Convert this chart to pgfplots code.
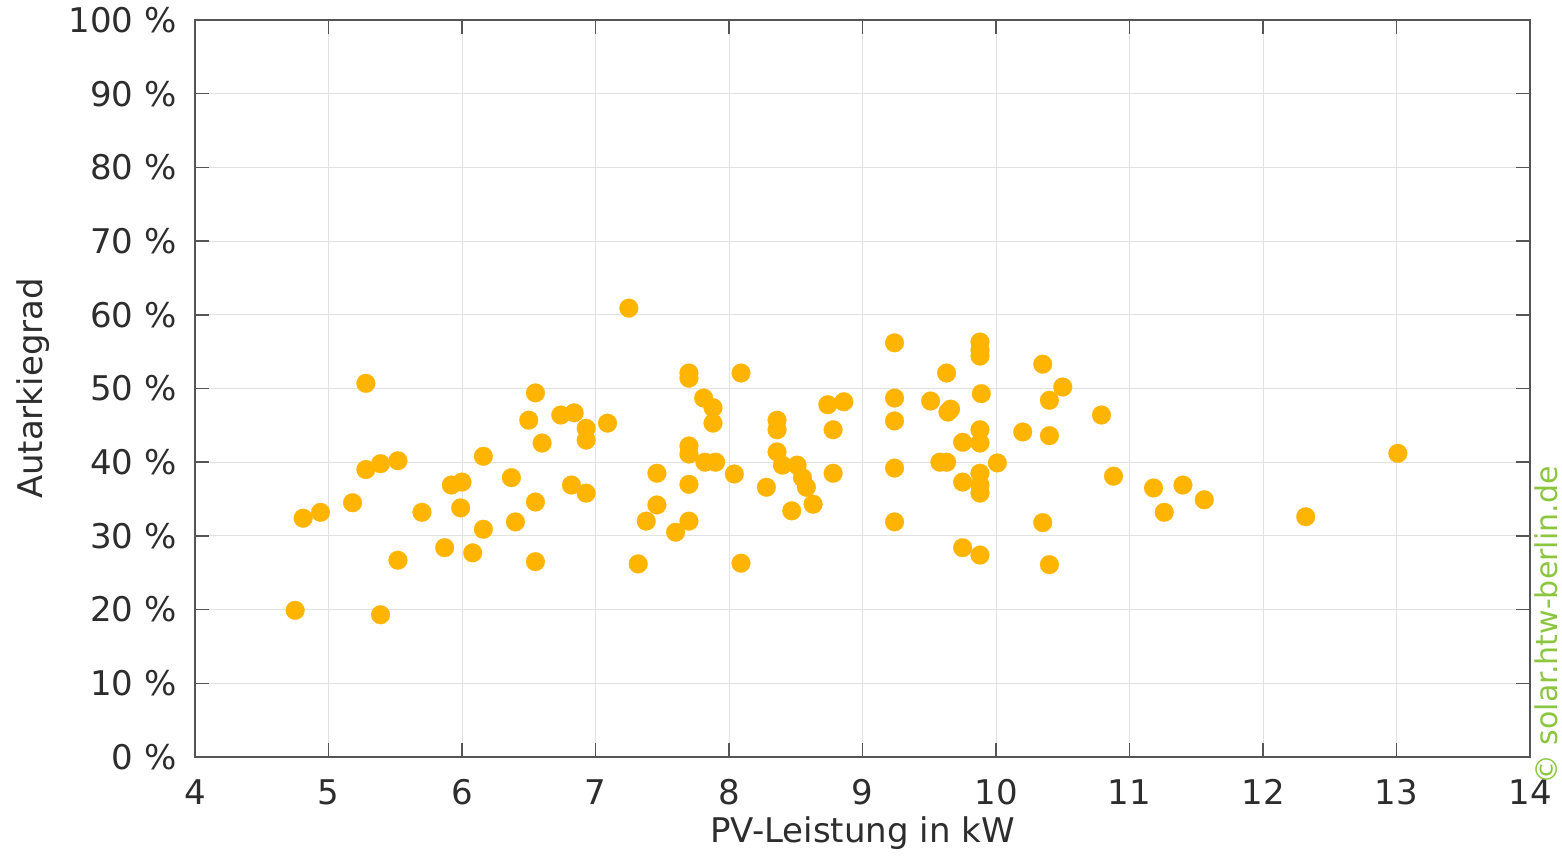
\documentclass[border=0pt]{standalone}
\usepackage{pgfplots}
\pgfplotsset{compat=1.18}
\usepackage{fontspec}
\setmainfont{DejaVu Sans}
\definecolor{markc}{RGB}{255,180,0}
\definecolor{txt}{RGB}{45,45,45}
\definecolor{axc}{RGB}{85,85,85}
\definecolor{gridc}{RGB}{226,226,226}
\definecolor{wm}{RGB}{140,198,63}
\begin{document}
\begin{tikzpicture}
\useasboundingbox (-97.5pt,-54pt) rectangle (683.5pt,378.5pt);
\begin{axis}[
  at={(0,0)}, anchor=south west,
  scale only axis,
  width=667.5pt, height=368.5pt,
  xmin=4, xmax=14, ymin=0, ymax=100,
  xtick={4,5,...,14},
  xticklabels={4,5,6,7,8,9,10,11,12,13,14},
  ytick={0,10,...,100},
  yticklabels={0 \%,10 \%,20 \%,30 \%,40 \%,50 \%,60 \%,70 \%,80 \%,90 \%,100 \%},
  tick align=inside, tick pos=both,
  major tick length=7pt,
  every tick/.style={axc, line width=0.75pt},
  axis line style={axc, line width=0.75pt},
  grid=major,
  major grid style={gridc, line width=0.5pt},
  xticklabel style={font=\fontsize{17}{20}\selectfont, text=txt, anchor=base, inner sep=0pt, yshift=-24pt},
  yticklabel style={font=\fontsize{17}{20}\selectfont, text=txt, anchor=east, inner sep=0pt, xshift=-9pt},
  xlabel={PV-Leistung in kW},
  ylabel={Autarkiegrad},
  xlabel style={font=\fontsize{17}{20}\selectfont, text=txt, at={(axis description cs:0.5,0)}, anchor=base, inner sep=0pt, yshift=-43pt},
  ylabel style={font=\fontsize{17}{20}\selectfont, text=txt, at={(axis description cs:0,0.5)}, anchor=center, inner sep=0pt, yshift=81pt},
  clip=false,
]
\addplot[only marks, color=markc, mark=*, mark size=4.7pt, mark options={solid, fill=markc, draw=markc, line width=0.1pt}] coordinates {
(4.75,19.9) (4.81,32.4) (4.94,33.2) (5.18,34.5) (5.28,50.7) (5.28,39.0)
(5.39,39.8) (5.39,19.3) (5.52,40.2) (5.52,26.7) (5.70,33.2) (5.87,28.4)
(5.92,36.9) (6.00,37.3) (5.99,33.8) (6.08,27.7) (6.16,30.9) (6.16,40.8)
(6.37,37.9) (6.40,31.9) (6.50,45.7) (6.55,49.4) (6.55,34.6) (6.55,26.5)
(6.60,42.6) (6.74,46.4) (6.84,46.7) (6.82,36.9) (6.93,44.6) (6.93,43.0)
(6.93,35.8) (7.09,45.3) (7.25,60.9) (7.32,26.2) (7.38,32.0) (7.46,38.5)
(7.46,34.2) (7.60,30.5) (7.70,52.1) (7.70,51.4) (7.70,42.2) (7.70,41.1)
(7.70,37.0) (7.70,32.0) (7.81,48.7) (7.88,47.4) (7.88,45.3) (7.82,40.0)
(7.90,40.0) (8.04,38.4) (8.09,52.1) (8.09,26.3) (8.28,36.6) (8.36,45.7)
(8.36,44.4) (8.36,41.4) (8.40,39.6) (8.51,39.6) (8.55,37.9) (8.58,36.6)
(8.47,33.4) (8.63,34.3) (8.74,47.8) (8.86,48.2) (8.78,44.4) (8.78,38.5)
(9.24,56.2) (9.24,48.7) (9.24,45.6) (9.24,39.2) (9.24,31.9) (9.51,48.3)
(9.63,52.1) (9.64,46.8) (9.66,47.2) (9.58,40.0) (9.63,40.0) (9.75,42.7)
(9.75,37.3) (9.75,28.4) (9.88,56.3) (9.88,55.2) (9.88,54.4) (9.89,49.3)
(9.88,44.4) (9.88,42.6) (9.88,38.5) (9.88,36.9) (9.88,35.8) (9.88,27.4)
(10.01,39.9) (10.20,44.1) (10.35,53.3) (10.35,31.8) (10.40,48.4) (10.40,43.6)
(10.40,26.1) (10.50,50.2) (10.79,46.4) (10.88,38.1) (11.18,36.5) (11.26,33.2)
(11.40,36.9) (11.56,34.9) (12.32,32.6) (13.01,41.2)
};
\node[rotate=90, anchor=west, inner sep=0pt, text=wm, font=\fontsize{15}{17}\selectfont, xshift=-14pt, yshift=-8.3pt] at (rel axis cs:1,0) {© solar.htw-berlin.de};
\end{axis}
\end{tikzpicture}
\end{document}
